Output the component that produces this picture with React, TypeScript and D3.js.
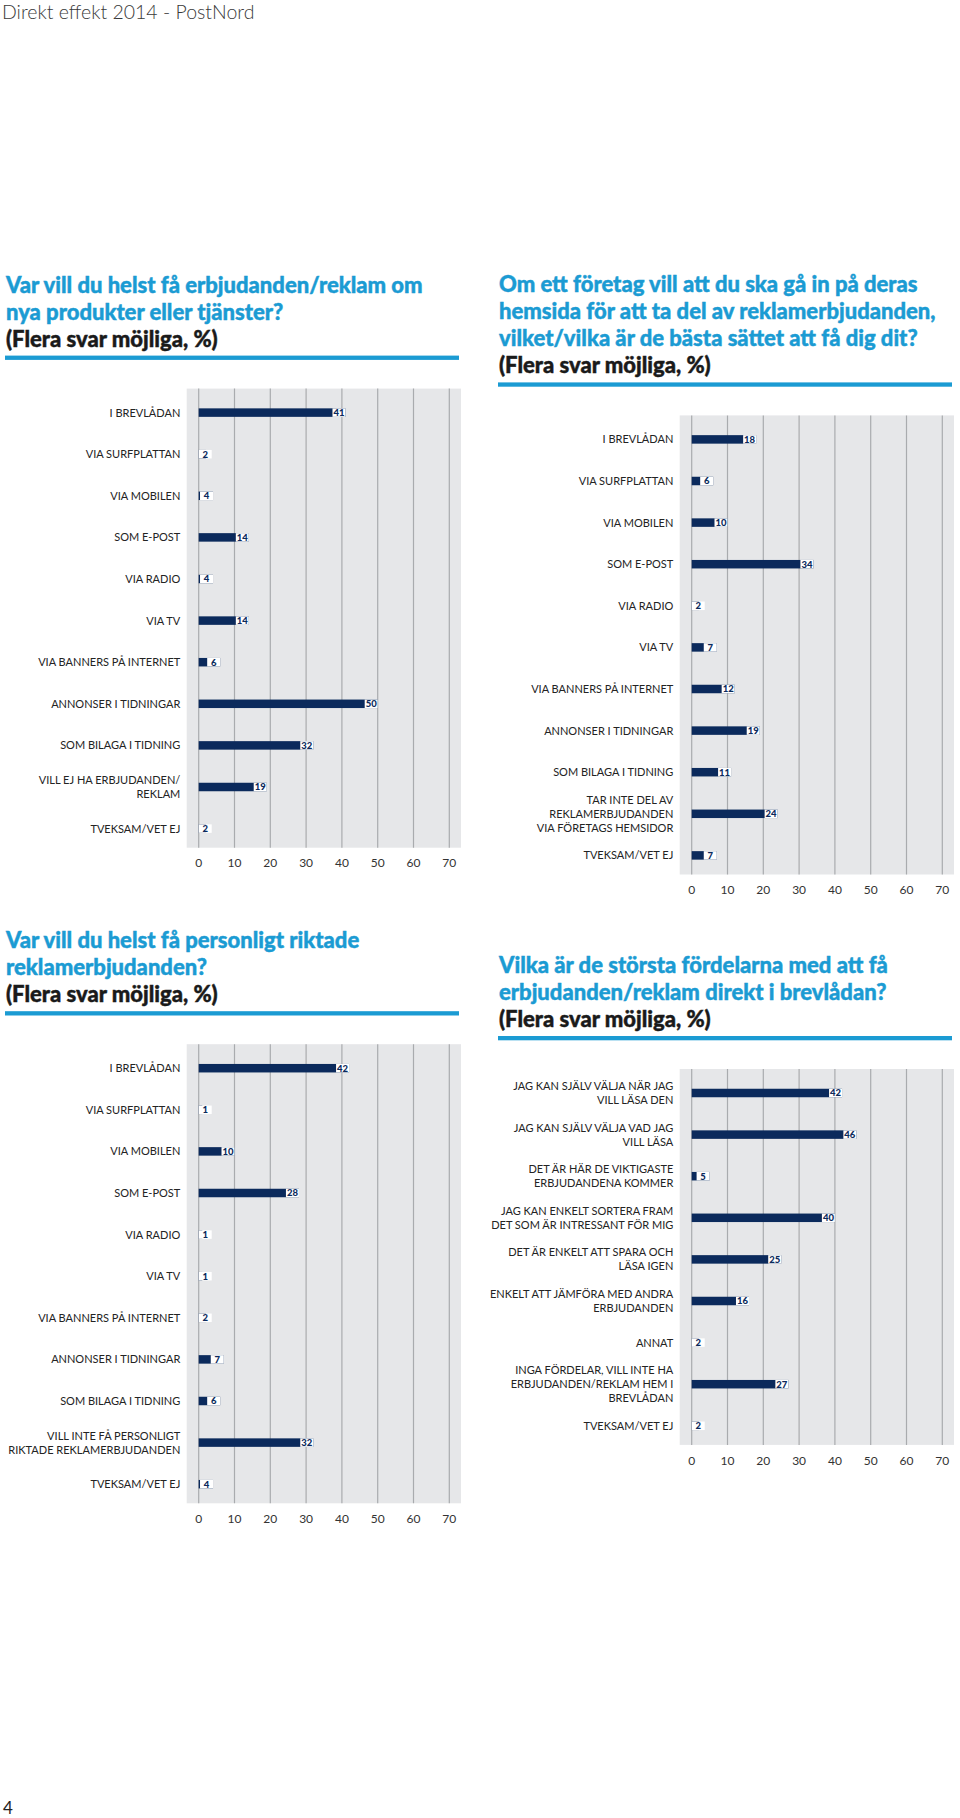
import React from "react";
import * as d3 from "d3";

// ---------- DATA ----------
const headerText = "Direkt effekt 2014 - PostNord";
const pageNumber = "4";
const subtitleText = "(Flera svar möjliga, %)";
const tickValues = [0, 10, 20, 30, 40, 50, 60, 70];

const chart1Title = ["Var vill du helst få erbjudanden/reklam om", "nya produkter eller tjänster?"];
const chart1Categories = [
  "I BREVLÅDAN",
  "VIA SURFPLATTAN",
  "VIA MOBILEN",
  "SOM E-POST",
  "VIA RADIO",
  "VIA TV",
  "VIA BANNERS PÅ INTERNET",
  "ANNONSER I TIDNINGAR",
  "SOM BILAGA I TIDNING",
  "VILL EJ HA ERBJUDANDEN/|REKLAM",
  "TVEKSAM/VET EJ",
];
const chart1Values = [41, 2, 4, 14, 4, 14, 6, 50, 32, 19, 2];

const chart2Title = [
  "Om ett företag vill att du ska gå in på deras",
  "hemsida för att ta del av reklamerbjudanden,",
  "vilket/vilka är de bästa sättet att få dig dit?",
];
const chart2Categories = [
  "I BREVLÅDAN",
  "VIA SURFPLATTAN",
  "VIA MOBILEN",
  "SOM E-POST",
  "VIA RADIO",
  "VIA TV",
  "VIA BANNERS PÅ INTERNET",
  "ANNONSER I TIDNINGAR",
  "SOM BILAGA I TIDNING",
  "TAR INTE DEL AV|REKLAMERBJUDANDEN|VIA FÖRETAGS HEMSIDOR",
  "TVEKSAM/VET EJ",
];
const chart2Values = [18, 6, 10, 34, 2, 7, 12, 19, 11, 24, 7];

const chart3Title = ["Var vill du helst få personligt riktade", "reklamerbjudanden?"];
const chart3Categories = [
  "I BREVLÅDAN",
  "VIA SURFPLATTAN",
  "VIA MOBILEN",
  "SOM E-POST",
  "VIA RADIO",
  "VIA TV",
  "VIA BANNERS PÅ INTERNET",
  "ANNONSER I TIDNINGAR",
  "SOM BILAGA I TIDNING",
  "VILL INTE FÅ PERSONLIGT|RIKTADE REKLAMERBJUDANDEN",
  "TVEKSAM/VET EJ",
];
const chart3Values = [42, 1, 10, 28, 1, 1, 2, 7, 6, 32, 4];

const chart4Title = ["Vilka är de största fördelarna med att få", "erbjudanden/reklam direkt i brevlådan?"];
const chart4Categories = [
  "JAG KAN SJÄLV VÄLJA NÄR JAG|VILL LÄSA DEN",
  "JAG KAN SJÄLV VÄLJA VAD JAG|VILL LÄSA",
  "DET ÄR HÄR DE VIKTIGASTE|ERBJUDANDENA KOMMER",
  "JAG KAN ENKELT SORTERA FRAM|DET SOM ÄR INTRESSANT FÖR MIG",
  "DET ÄR ENKELT ATT SPARA OCH|LÄSA IGEN",
  "ENKELT ATT JÄMFÖRA MED ANDRA|ERBJUDANDEN",
  "ANNAT",
  "INGA FÖRDELAR, VILL INTE HA|ERBJUDANDEN/REKLAM HEM I|BREVLÅDAN",
  "TVEKSAM/VET EJ",
];
const chart4Values = [42, 46, 5, 40, 25, 16, 2, 27, 2];

// ---------- STYLE ----------
const BLUE = "#1b9bd3";
const NAVY = "#0b2a5c";
const BG = "#e6e7e9";
const GRID = "#a9abae";
const LABEL = "#232323";
const STEP = 41.6;
const TITLE_FONT = "Lato, 'Open Sans', sans-serif";

type ChartProps = {
  x: number;
  firstBaseline: number;
  title: string[];
  categories: string[];
  values: number[];
};

function Chart({ x, firstBaseline, title, categories, values }: ChartProps) {
  const lineH = 27;
  const subY = firstBaseline + title.length * lineH;
  const ruleY = subY + 9;
  const bgTop = ruleY + 33;
  const n = categories.length;
  const y = d3
    .scaleBand<string>()
    .domain(categories)
    .range([bgTop + 3.2, bgTop + 3.2 + n * STEP]);
  const bgBottom = bgTop + n * STEP + 1.5;
  const xs = d3.scaleLinear().domain([0, 70]).range([x + 193.7, x + 444.3]);
  const zero = xs(0);
  const barH = 8.5;
  const boxW = 13;
  const labelRight = x + 175.3;
  const labelLineH = 13.9;

  const titleStyle = {
    fontFamily: TITLE_FONT,
    fontWeight: 900,
    fontSize: 22,
    strokeWidth: 0.45,
    paintOrder: "stroke",
  } as React.CSSProperties;

  return (
    <g>
      {title.map((t, i) => (
        <text key={"t" + i} x={x + 1} y={firstBaseline + i * lineH} fill={BLUE} stroke={BLUE} style={titleStyle}>
          {t}
        </text>
      ))}
      <text x={x + 1} y={subY} fill="#1a1a1a" stroke="#1a1a1a" style={titleStyle}>
        {subtitleText}
      </text>
      <rect x={x} y={ruleY} width={454} height={4.3} fill={BLUE} />

      <rect x={x + 181.7} y={bgTop} width={274.3} height={bgBottom - bgTop} fill={BG} />
      {tickValues.map((t) => (
        <g key={"g" + t}>
          <line x1={xs(t)} x2={xs(t)} y1={bgTop} y2={bgBottom} stroke={GRID} strokeWidth={1.2} />
          <text
            x={xs(t)}
            y={bgBottom + 15.5}
            dy="0.35em"
            textAnchor="middle"
            fill="#333"
            fontFamily="Lato, sans-serif"
            fontSize={12}
          >
            {t}
          </text>
        </g>
      ))}

      {categories.map((c, i) => {
        const v = values[i];
        const cy = (y(c) as number) + y.bandwidth() / 2;
        const lines = c.split("|");
        const right = Math.max(xs(v), zero + boxW);
        return (
          <g key={"c" + i}>
            <text
              x={labelRight}
              y={cy}
              textAnchor="end"
              fill={LABEL}
              fontFamily="Lato, sans-serif"
              fontSize={11}
            >
              {lines.map((l, j) => (
                <tspan
                  key={j}
                  x={labelRight}
                  y={cy + (j - (lines.length - 1) / 2) * labelLineH}
                  dy="0.36em"
                >
                  {l}
                </tspan>
              ))}
            </text>
            <rect x={zero} y={cy - barH / 2} width={xs(v) - zero} height={barH} fill={NAVY} />
            <rect x={right - boxW} y={cy - barH / 2} width={boxW} height={barH} fill="#ffffff" />
            <text
              x={right - boxW / 2}
              y={cy}
              dy="0.36em"
              textAnchor="middle"
              fill={NAVY}
              fontFamily="Lato, sans-serif"
              fontWeight={900}
              fontSize={9.5}
            >
              {v}
            </text>
          </g>
        );
      })}
    </g>
  );
}

export default function App() {
  return (
    <svg
      width={960}
      height={1818}
      style={{ position: "absolute", left: 0, top: 0, background: "#fff" }}
    >
      <text
        x={2}
        y={18.8}
        fill="#3a3a3a"
        fontFamily="'Lato Light', Lato, sans-serif"
        fontWeight={300}
        fontSize={19.5}
      >
        {headerText}
      </text>
      <Chart x={5} firstBaseline={292.6} title={chart1Title} categories={chart1Categories} values={chart1Values} />
      <Chart x={498} firstBaseline={292.4} title={chart2Title} categories={chart2Categories} values={chart2Values} />
      <Chart x={5} firstBaseline={948.2} title={chart3Title} categories={chart3Categories} values={chart3Values} />
      <Chart x={498} firstBaseline={973} title={chart4Title} categories={chart4Categories} values={chart4Values} />
      <text x={3} y={1814} fill="#222" fontFamily="Lato, sans-serif" fontSize={17}>
        {pageNumber}
      </text>
    </svg>
  );
}
